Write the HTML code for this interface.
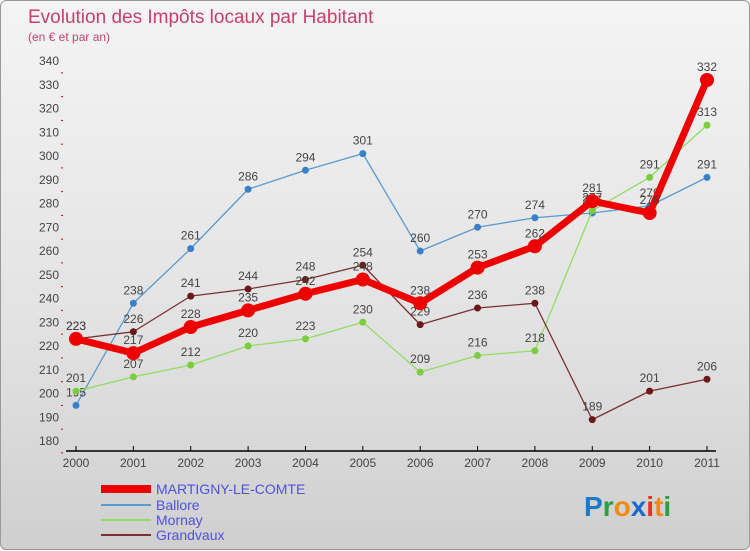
<!DOCTYPE html>
<html><head><meta charset="utf-8"><style>
body{margin:0;width:750px;height:550px;overflow:hidden;font-family:"Liberation Sans",sans-serif}
#wrap{position:absolute;left:0;top:0;width:748px;height:548px;border:1px solid #999;border-radius:6px;background:linear-gradient(#f4f4f4,#e2e2e2 60%,#cfcfcf)}
</style></head><body>
<div id="wrap">
<svg width="750" height="550" id="chart" style="position:absolute;left:0;top:0">
<text x="27" y="22" font-size="19" fill="#c8406a">Evolution des Impôts locaux par Habitant</text>
<text x="27" y="40" font-size="12" fill="#c8406a">(en € et par an)</text>
<g id="axes"></g><g id="series"></g><g id="legend"></g>
<text x="583" y="515" font-size="28" font-weight="bold"><tspan fill="#1a7acc">P</tspan><tspan fill="#2aa040">r</tspan><tspan fill="#f08a10">o</tspan><tspan fill="#1a6acc">x</tspan><tspan fill="#e83020">i</tspan><tspan fill="#f08a10">t</tspan><tspan fill="#2aa040">i</tspan></text>
</svg></div>
<script>
const years=[2000,2001,2002,2003,2004,2005,2006,2007,2008,2009,2010,2011];
const yTicks=[180,190,200,210,220,230,240,250,260,270,280,290,300,310,320,330,340];
const martigny=[223,217,228,235,242,248,238,253,262,281,276,332];
const ballore=[195,238,261,286,294,301,260,270,274,276,279,291];
const mornay=[201,207,212,220,223,230,209,216,218,277,291,313];
const grandvaux=[223,226,241,244,248,254,229,236,238,189,201,206];
const NS="http://www.w3.org/2000/svg";
function X(i){return 75+i*(706-75)/(years.length-1);}
function Y(v){return 440-(v-180)*(380/160);}
function mk(tag,attrs,parent,text){const e=document.createElementNS(NS,tag);for(const k in attrs)e.setAttribute(k,attrs[k]);if(text!==undefined)e.textContent=text;parent.appendChild(e);return e;}
const axes=document.getElementById('axes');
const ax=mk('line',{x1:65,y1:450,x2:715,y2:450,stroke:'#000','stroke-width':1.5},axes);


yTicks.forEach(v=>{
 const t=mk('text',{x:58,y:Y(v)+4,'font-size':12,fill:'#444','text-anchor':'end'},axes,v);
 
 
 const m=mk('line',{x1:60,y1:Y(v)+11.9,x2:62,y2:Y(v)+11.9,stroke:'#e00','stroke-width':1},axes);
 
 
});
years.forEach((yr,i)=>{
 mk('line',{x1:X(i),y1:445,x2:X(i),y2:450,stroke:'#000'},axes);
 const t=mk('text',{x:X(i),y:466,'font-size':12,fill:'#444','text-anchor':'middle'},axes,yr);
 
 
});
const ser=document.getElementById('series');
function draw(vals,color,w,r,name,dot){
 const g=mk('g',{},ser);
 
 
 mk('polyline',{points:vals.map((v,i)=>X(i)+','+Y(v)).join(' '),fill:'none',stroke:color,'stroke-width':w,'stroke-linejoin':'round'},g);
 vals.forEach((v,i)=>{
  const c=mk('circle',{cx:X(i),cy:Y(v),r:r,fill:dot||color},g);
  
  
  mk('text',{x:X(i),y:Y(v)-9,'font-size':12,fill:'#444','text-anchor':'middle'},g,v);
 });
}
draw(ballore,'#5a9ad0',1.3,3.5,'series-ballore','#3a80c8');
draw(mornay,'#90dd60',1.3,3.5,'series-mornay','#7ccc40');
draw(grandvaux,'#7a3030',1.3,3.5,'series-grandvaux','#6a1818');
draw(martigny,'#ee0000',7,7,'series-martigny','#ee0000');
const lg=document.getElementById('legend');
[['MARTIGNY-LE-COMTE','#ee0000',8,493],['Ballore','#5a9ad0',2,509],['Mornay','#90dd60',2,524],['Grandvaux','#7a3030',2,539]].forEach(d=>{
 const g=mk('g',{},lg);
 
 
 mk('line',{x1:100,y1:d[3]-5,x2:150,y2:d[3]-5,stroke:d[1],'stroke-width':d[2]},g);
 mk('text',{x:155,y:d[3],'font-size':14,fill:'#5050e0'},g,d[0]);
});
</script>
</body></html>
